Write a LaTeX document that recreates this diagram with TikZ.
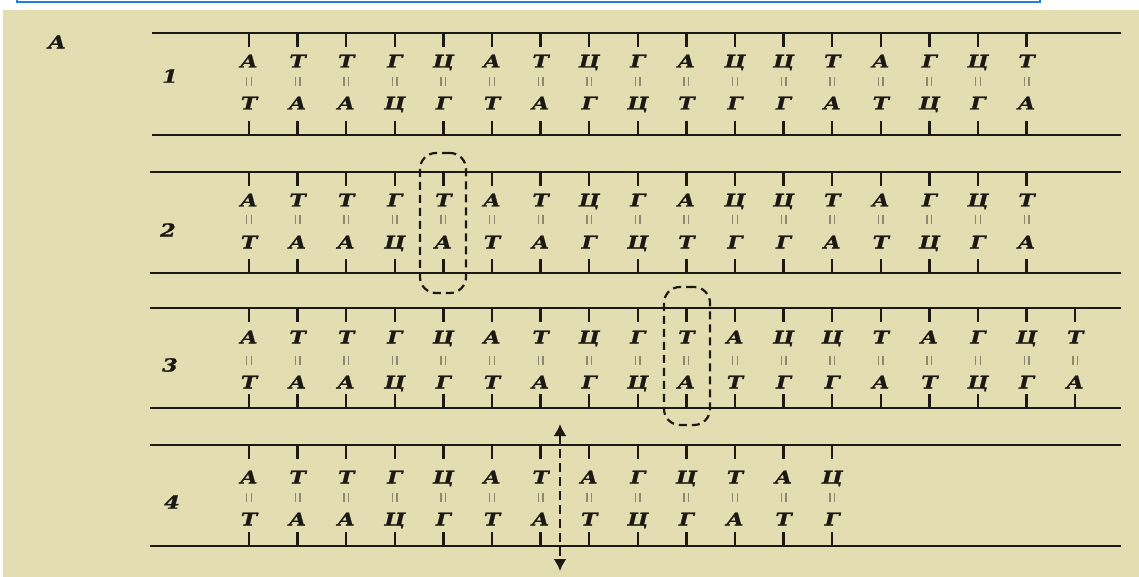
\documentclass[tikz,border=0pt]{standalone}
\usepackage{fontspec}
\usetikzlibrary{arrows.meta}
\newfontfamily\dnafont[FakeStretch=1.25,FakeBold=1.2]{DejaVu Serif}
\definecolor{beige}{RGB}{226,222,178}
\definecolor{frameblue}{RGB}{30,128,220}
\definecolor{bargray}{RGB}{140,138,110}
\definecolor{ink}{RGB}{28,24,20}
\newcommand\dnarow[8]{%
  % #1 name, #2 top line y, #3 bottom line y, #4 top letters y, #5 bars y, #6 bottom letters y, #7 line start x, #8 pairs
  \draw[strand] (#7,#2) coordinate (#1L1) -- (1121,#2) coordinate (#1R1);
  \draw[strand] (#7,#3) coordinate (#1L2) -- (1121,#3) coordinate (#1R2);
  \foreach \tp/\bt [count=\i] in {#8}{%
    \pgfmathsetmacro\xx{249+48.6*(\i-1)}
    \node[base] (#1t\i) at (\xx,{#4+6.5}) {\tp};
    \node[base] (#1b\i) at (\xx,{#6+6.5}) {\bt};
    \draw[tick] (\xx,#2) -- (\xx,{#2+14});
    \draw[tick] (\xx,#3) -- (\xx,{#3-14});
    \draw[hbond] ({\xx-2.3},{#5-4.5}) -- ++(0,9);
    \draw[hbond] ({\xx+2.3},{#5-4.5}) -- ++(0,9);
  }%
}
\begin{document}
\begin{tikzpicture}[x=1pt,y=-1pt,
  base/.style={font=\dnafont\bfseries\itshape\fontsize{17.5}{17.5}\selectfont, text=ink, inner sep=0pt, anchor=base},
  strand/.style={line width=2.3pt, draw=ink},
  tick/.style={line width=2.3pt, draw=ink},
  hbond/.style={line width=1.4pt, draw=bargray},
  lbl/.style={font=\dnafont\bfseries\itshape\fontsize{18}{18}\selectfont, text=ink, inner sep=0pt},
  boxmark/.style={draw=ink, line width=2.2pt, dash pattern=on 8pt off 5pt, rounded corners=16pt, minimum width=46pt, inner sep=0pt},
  cutarrow/.style={draw=ink, line width=2.2pt, dash pattern=on 9pt off 5pt, {Latex[length=12pt,width=13pt]}-{Latex[length=12pt,width=13pt]}}
]
\useasboundingbox (0,0) rectangle (1139,577);
\fill[white] (0,0) rectangle (1139,577);
\fill[beige] (3,10) rectangle (1139,577);
\draw[frameblue, line width=2pt] (17,-5) -- (17,2) -- (1040,2) -- (1040,-5);

\node[lbl] (labA) at (57,42) {A};
\node[lbl] (lab1) at (170,76) {1};
\node[lbl] (lab2) at (168,230) {2};
\node[lbl] (lab3) at (170,365) {3};
\node[lbl] (lab4) at (172,502) {4};

\dnarow{ra}{33}{135}{61}{82}{103}{152}{А/Т,Т/А,Т/А,Г/Ц,Ц/Г,А/Т,Т/А,Ц/Г,Г/Ц,А/Т,Ц/Г,Ц/Г,Т/А,А/Т,Г/Ц,Ц/Г,Т/А}
\dnarow{rb}{172}{273}{200}{220}{242}{150}{А/Т,Т/А,Т/А,Г/Ц,Т/А,А/Т,Т/А,Ц/Г,Г/Ц,А/Т,Ц/Г,Ц/Г,Т/А,А/Т,Г/Ц,Ц/Г,Т/А}
\dnarow{rc}{308}{408}{337}{360}{382}{150}{А/Т,Т/А,Т/А,Г/Ц,Ц/Г,А/Т,Т/А,Ц/Г,Г/Ц,Т/А,А/Т,Ц/Г,Ц/Г,Т/А,А/Т,Г/Ц,Ц/Г,Т/А}
\dnarow{rd}{445}{546}{477}{497}{519}{150}{А/Т,Т/А,Т/А,Г/Ц,Ц/Г,А/Т,Т/А,А/Т,Г/Ц,Ц/Г,Т/А,А/Т,Ц/Г}

\node[boxmark, minimum height=140pt] (ins2) at (443,223) {};
\node[boxmark, minimum height=138pt] (ins3) at (687,356) {};

\coordinate (arrTop) at (560,424);
\coordinate (arrBot) at (560,571);
\draw[cutarrow] (arrTop) -- (arrBot);
\end{tikzpicture}
\end{document}
